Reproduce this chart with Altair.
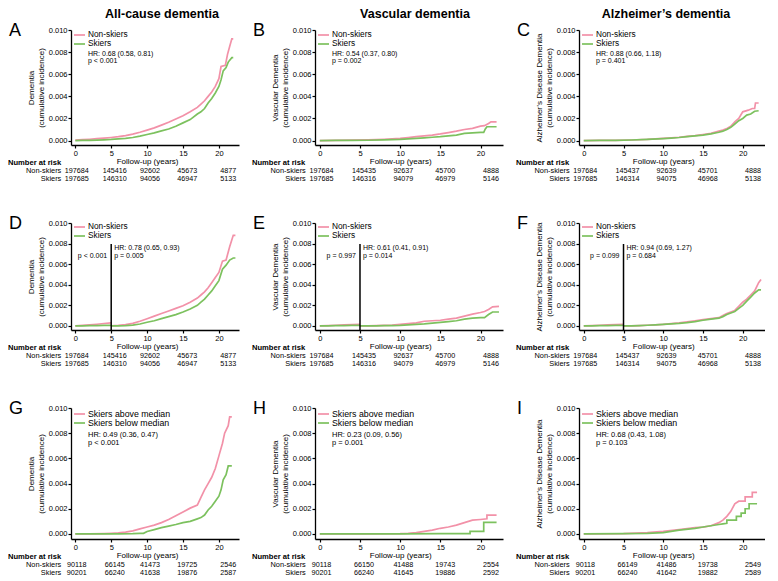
import altair as alt
import pandas as pd

FONT = "Liberation Sans"
PINK = "#f291a8"
GREEN = "#7cc15e"

col_titles = ["All-cause dementia", "Vascular dementia", "Alzheimer\u2019s dementia"]
y_titles = [["Dementia", "(cumulative incidence)"],
            ["Vascular Dementia", "(cumulative incidence)"],
            ["Alzheimer\u2019s Disease Dementia", "(cumulative incidence)"]]
panel_letters = ["A", "B", "C", "D", "E", "F", "G", "H", "I"]
groups_main = ["Non-skiers", "Skiers"]
groups_median = ["Skiers above median", "Skiers below median"]
risk_times = [0, 5, 10, 15, 20]
x_ticks = [0, 5, 10, 15, 20]
y_ticks = [0, 0.002, 0.004, 0.006, 0.008, 0.010]

# Hazard ratio / p-value texts
hr_text = ["HR: 0.68 (0.58, 0.81)", "HR: 0.54 (0.37, 0.80)", "HR: 0.88 (0.66, 1.18)",
           "HR: 0.78 (0.65, 0.93)", "HR: 0.61 (0.41, 0.91)", "HR: 0.94 (0.69, 1.27)",
           "HR: 0.49 (0.36, 0.47)", "HR: 0.23 (0.09, 0.56)", "HR: 0.68 (0.43, 1.08)"]
p_text = ["p < 0.001", "p = 0.002", "p = 0.401",
          "p =  0.005", "p =  0.014", "p =  0.684",
          "p < 0.001", "p = 0.001", "p = 0.103"]
p_before = ["", "", "", "p < 0.001", "p = 0.997", "p = 0.099", "", "", ""]

# Numbers at risk
risk_ns = [[197684, 145416, 92602, 45673, 4877], [197684, 145435, 92637, 45700, 4888],
           [197684, 145437, 92639, 45701, 4888], [197684, 145416, 92602, 45673, 4877],
           [197684, 145435, 92637, 45700, 4888], [197684, 145437, 92639, 45701, 4888],
           [90118, 66145, 41473, 19725, 2546], [90118, 66150, 41488, 19743, 2554],
           [90118, 66149, 41486, 19738, 2549]]
risk_sk = [[197685, 146310, 94056, 46947, 5133], [197685, 146316, 94079, 46979, 5146],
           [197685, 146314, 94075, 46968, 5138], [197685, 146310, 94056, 46947, 5133],
           [197685, 146316, 94079, 46979, 5146], [197685, 146314, 94075, 46968, 5138],
           [90201, 66240, 41638, 19876, 2587], [90201, 66240, 41645, 19886, 2592],
           [90201, 66240, 41642, 19882, 2589]]

# Cumulative incidence curves (values in units of 0.001)
A_ns_t = [0, 1, 2, 3, 4, 5, 6, 7, 8, 9, 10, 11, 12, 13, 14, 15, 16, 17, 17.5, 18, 18.5, 19, 19.5, 20, 20.3, 20.9, 21.2, 21.5, 21.8, 22]
A_ns_v = [0.05, 0.08, 0.12, 0.17, 0.22, 0.28, 0.35, 0.45, 0.58, 0.75, 0.95, 1.15, 1.4, 1.65, 1.95, 2.25, 2.6, 3.0, 3.3, 3.6, 4.0, 4.4, 4.9, 5.6, 6.7, 6.8, 7.8, 8.5, 9.2, 9.2]
A_sk_t = [0, 1, 2, 3, 4, 5, 6, 7, 8, 9, 10, 11, 12, 13, 14, 15, 16, 17, 17.5, 18, 18.5, 19, 19.5, 20, 20.3, 20.6, 21, 21.3, 21.8, 22]
A_sk_v = [0.0, 0.01, 0.02, 0.04, 0.07, 0.1, 0.15, 0.2, 0.28, 0.4, 0.55, 0.7, 0.88, 1.05, 1.3, 1.6, 1.9, 2.4, 2.6, 2.9, 3.4, 3.8, 4.3, 4.9, 5.5, 6.3, 6.6, 7.1, 7.5, 7.5]

B_ns_t = [0, 2, 4, 6, 8, 10, 11, 12, 13, 14, 15, 16, 17, 18, 19, 20, 20.5, 21, 21.3, 22]
B_ns_v = [0, 0.02, 0.04, 0.07, 0.12, 0.2, 0.27, 0.35, 0.42, 0.5, 0.6, 0.72, 0.85, 1.0, 1.1, 1.3, 1.35, 1.55, 1.7, 1.7]
B_sk_t = [0, 2, 4, 6, 8, 10, 11, 12, 13, 14, 15, 16, 17, 18, 19, 20, 20.4, 20.6, 20.8, 22]
B_sk_v = [0, 0.01, 0.02, 0.03, 0.06, 0.1, 0.15, 0.2, 0.25, 0.3, 0.35, 0.42, 0.5, 0.65, 0.7, 0.75, 0.75, 1.05, 1.25, 1.25]

C_ns_t = [0, 2, 4, 6, 8, 10, 11, 12, 13, 14, 15, 16, 17, 17.5, 18, 18.5, 19, 19.5, 20, 20.7, 21.2, 21.5, 21.6, 22]
C_ns_v = [0, 0.01, 0.02, 0.05, 0.1, 0.2, 0.25, 0.3, 0.38, 0.45, 0.55, 0.65, 0.85, 0.95, 1.1, 1.3, 1.7, 2.0, 2.6, 2.75, 2.9, 2.9, 3.4, 3.4]
C_sk_t = [0, 2, 4, 6, 8, 10, 11, 12, 13, 14, 15, 16, 17, 17.5, 18, 18.5, 19, 19.5, 20, 20.5, 21, 21.5, 22]
C_sk_v = [0, 0.01, 0.02, 0.05, 0.1, 0.18, 0.23, 0.28, 0.35, 0.42, 0.5, 0.6, 0.75, 0.85, 1.0, 1.2, 1.5, 1.8, 2.0, 2.3, 2.4, 2.65, 2.7]

pre_t = [0, 1, 2, 3, 4, 5]
D_ns_pre_v = [0, 0.05, 0.1, 0.16, 0.23, 0.3]
D_sk_pre_v = [0, 0.01, 0.02, 0.03, 0.04, 0.05]
D_post_t = [5, 6, 7, 8, 9, 10, 11, 12, 13, 14, 15, 16, 17, 17.5, 18, 18.5, 19, 19.5, 20, 20.5, 21, 21.5, 22, 22.3]
D_ns_post_v = [0, 0.05, 0.12, 0.25, 0.45, 0.7, 0.95, 1.2, 1.45, 1.7, 1.95, 2.3, 2.7, 3.0, 3.3, 3.7, 4.2, 4.7, 5.2, 6.3, 6.4, 7.7, 8.8, 8.8]
D_sk_post_v = [0, 0.01, 0.03, 0.08, 0.18, 0.35, 0.5, 0.7, 0.9, 1.1, 1.35, 1.65, 2.0, 2.3, 2.6, 3.0, 3.4, 3.9, 4.4, 5.5, 5.9, 6.4, 6.6, 6.6]

E_ns_pre_v = [0, 0.03, 0.06, 0.09, 0.12, 0.15]
E_sk_pre_v = [0, 0.01, 0.02, 0.03, 0.04, 0.05]
E_post_t = [5, 6, 7, 8, 9, 10, 11, 12, 13, 14, 15, 16, 17, 18, 19, 20, 20.5, 21, 21.5, 22.3]
E_ns_post_v = [0, 0.01, 0.03, 0.05, 0.08, 0.15, 0.22, 0.3, 0.45, 0.5, 0.55, 0.65, 0.75, 0.95, 1.15, 1.3, 1.4, 1.6, 1.85, 1.9]
E_sk_post_v = [0, 0.0, 0.01, 0.02, 0.03, 0.05, 0.1, 0.15, 0.2, 0.27, 0.35, 0.42, 0.5, 0.65, 0.75, 0.8, 0.8, 1.1, 1.35, 1.35]

F_ns_pre_v = [0, 0.03, 0.06, 0.09, 0.12, 0.15]
F_sk_pre_v = [0, 0.01, 0.02, 0.03, 0.04, 0.05]
F_post_t = [5, 6, 7, 8, 9, 10, 11, 12, 13, 14, 15, 16, 17, 17.5, 18, 18.5, 19, 19.5, 20, 20.5, 21, 21.5, 22, 22.3]
F_ns_post_v = [0, 0.01, 0.03, 0.06, 0.1, 0.15, 0.22, 0.3, 0.4, 0.5, 0.6, 0.7, 0.8, 1.0, 1.2, 1.35, 1.5, 1.9, 2.3, 2.6, 3.0, 3.4, 4.2, 4.5]
F_sk_post_v = [0, 0.01, 0.03, 0.06, 0.1, 0.15, 0.2, 0.25, 0.32, 0.42, 0.55, 0.65, 0.75, 0.9, 1.1, 1.25, 1.4, 1.7, 2.0, 2.4, 2.8, 3.2, 3.5, 3.5]

G_ns_t = [0, 2, 4, 5, 6, 7, 8, 9, 10, 11, 12, 13, 14, 15, 16, 17, 17.5, 18, 18.5, 19, 19.5, 20, 20.5, 20.8, 21.3, 21.5, 21.8]
G_ns_v = [0, 0.01, 0.03, 0.05, 0.08, 0.15, 0.25, 0.4, 0.55, 0.7, 0.9, 1.15, 1.45, 1.75, 2.05, 2.3, 2.9, 3.5, 4.0, 4.5, 5.2, 6.2, 7.2, 8.0, 8.6, 9.3, 9.3]
G_sk_t = [0, 2, 4, 6, 8, 9, 9.5, 10, 11, 12, 13, 14, 15, 16, 17, 17.5, 18, 18.5, 19, 19.5, 20, 20.3, 20.6, 21, 21.3, 21.8]
G_sk_v = [0, 0, 0, 0.01, 0.02, 0.04, 0.05, 0.2, 0.35, 0.5, 0.62, 0.75, 0.9, 1.0, 1.2, 1.3, 1.5, 1.9, 2.2, 2.6, 3.0, 3.5, 4.3, 4.7, 5.4, 5.4]

H_ns_t = [0, 5, 10, 11, 12, 13, 14, 15, 16, 17, 18, 19, 20, 20.8, 20.8, 22]
H_ns_v = [0, 0.01, 0.02, 0.05, 0.1, 0.2, 0.3, 0.45, 0.55, 0.7, 0.9, 1.1, 1.15, 1.2, 1.5, 1.5]
H_sk_t = [0, 5, 10, 15, 18.7, 18.7, 20.4, 20.4, 22]
H_sk_v = [0, 0, 0, 0.02, 0.02, 0.2, 0.2, 0.92, 0.92]

I_ns_t = [0, 5, 8, 10, 12, 14, 15, 16, 17, 17.5, 18, 18.5, 19, 19.5, 20.3, 20.3, 21.2, 21.2, 21.8]
I_ns_v = [0, 0.02, 0.1, 0.2, 0.35, 0.5, 0.55, 0.65, 0.9, 1.1, 1.4, 1.8, 2.4, 2.6, 2.6, 2.95, 2.95, 3.3, 3.3]
I_sk_t = [0, 5, 8, 10, 12, 14, 15, 16, 17, 17.5, 18, 18, 19.2, 19.2, 19.8, 19.8, 20.3, 20.3, 20.8, 20.8, 21.8]
I_sk_v = [0, 0.02, 0.05, 0.1, 0.3, 0.45, 0.55, 0.65, 0.75, 0.8, 0.85, 1.1, 1.1, 1.4, 1.4, 1.65, 1.65, 2.0, 2.0, 2.4, 2.4]

# series per panel: (group index, segment name, times, values)
curves = [
    [(0, "a", A_ns_t, A_ns_v), (1, "b", A_sk_t, A_sk_v)],
    [(0, "a", B_ns_t, B_ns_v), (1, "b", B_sk_t, B_sk_v)],
    [(0, "a", C_ns_t, C_ns_v), (1, "b", C_sk_t, C_sk_v)],
    [(0, "a", pre_t, D_ns_pre_v), (0, "c", D_post_t, D_ns_post_v),
     (1, "b", pre_t, D_sk_pre_v), (1, "d", D_post_t, D_sk_post_v)],
    [(0, "a", pre_t, E_ns_pre_v), (0, "c", E_post_t, E_ns_post_v),
     (1, "b", pre_t, E_sk_pre_v), (1, "d", E_post_t, E_sk_post_v)],
    [(0, "a", pre_t, F_ns_pre_v), (0, "c", F_post_t, F_ns_post_v),
     (1, "b", pre_t, F_sk_pre_v), (1, "d", F_post_t, F_sk_post_v)],
    [(0, "a", G_ns_t, G_ns_v), (1, "b", G_sk_t, G_sk_v)],
    [(0, "a", H_ns_t, H_ns_v), (1, "b", H_sk_t, H_sk_v)],
    [(0, "a", I_ns_t, I_ns_v), (1, "b", I_sk_t, I_sk_v)],
]

# ---------------- layout / style ----------------
X_DOMAIN = [-0.6, 22.8]
Y_DOMAIN = [-0.0004, 0.010]
widths = [168, 188, 186]
heights = [115, 107, 131]
title_dx = [7, 6, -6]
risk_shift = [0.2, 0.5, 0.4, 0.6, 1.3]
legend_y = [[5, 14, 24, 31], [4, 13, 25, 33], [6, 15, 27, 35]]

one = pd.DataFrame({"k": [0]})


def txt(text, x, y, size=8, align="left", weight="normal", dx=0, baseline="middle"):
    return alt.Chart(one).mark_text(
        text=text, font=FONT, fontSize=size, align=align, fontWeight=weight,
        baseline=baseline, dx=dx, color="black"
    ).encode(x=x, y=alt.value(y))


def make_panel(i):
    r, c = divmod(i, 3)
    W, H = widths[c], heights[r]
    xs = alt.Scale(domain=X_DOMAIN, nice=False, zero=False)
    ys = alt.Scale(domain=Y_DOMAIN, nice=False, zero=False)
    labels = groups_main if r < 2 else groups_median

    rows = []
    order = 0
    for g, seg, ts, vs in curves[i]:
        for t, v in zip(ts, vs):
            rows.append({"t": t, "v": v / 1000.0, "grp": labels[g], "seg": seg, "o": order})
            order += 1
    df = pd.DataFrame(rows)

    lines = alt.Chart(df).mark_line(strokeWidth=1.7).encode(
        x=alt.X("t:Q", scale=xs, axis=alt.Axis(
            values=x_ticks, title="Follow-up (years)", titleX=W * (10.6 / 23.4),
            labelFontSize=7.5, titleFontSize=8, tickSize=3, labelPadding=1,
            titlePadding=1, titleFontWeight="normal", domainWidth=1.3, tickWidth=1.2)),
        y=alt.Y("v:Q", scale=ys, axis=alt.Axis(
            values=y_ticks, format=".3f", title=y_titles[c], labelFontSize=7.5,
            titleFontSize=8, tickSize=3, labelPadding=1, titlePadding=3,
            titleFontWeight="normal", titleLineHeight=10, domainWidth=1.3, tickWidth=1.2)),
        color=alt.Color("grp:N", scale=alt.Scale(domain=labels, range=[PINK, GREEN]), legend=None),
        detail="seg:N",
        order="o:Q",
    )

    layers = [lines]
    ly = legend_y[r]
    lsize = 8.3 if r < 2 else 8.8
    # legend
    for k, col in enumerate([PINK, GREEN]):
        layers.append(alt.Chart(one).mark_rule(color=col, strokeWidth=1.7).encode(
            x=alt.value(3), x2=alt.value(14), y=alt.value(ly[k])))
        layers.append(txt(labels[k], alt.value(17), ly[k], size=lsize))

    if r == 1:
        layers.append(alt.Chart(one).mark_rule(color="black", strokeWidth=1.5).encode(
            x=alt.X(datum=5, type="quantitative", scale=xs), y=alt.value(21), y2=alt.value(H)))
        layers.append(txt(hr_text[i], alt.X(datum=5, type="quantitative"), ly[2], size=7, dx=3))
        layers.append(txt(p_text[i], alt.X(datum=5, type="quantitative"), ly[3], size=7, dx=3))
        layers.append(txt(p_before[i], alt.X(datum=5, type="quantitative"), ly[3], size=7, dx=-4, align="right"))
    else:
        hs = 7 if r == 0 else 7.5
        layers.append(txt(hr_text[i], alt.value(17), ly[2], size=hs))
        layers.append(txt(p_text[i], alt.value(17), ly[3], size=hs))

    # panel letter
    layers.append(txt(panel_letters[i], alt.value(-62), 6, size=18, baseline="alphabetic"))
    # column title
    if r == 0:
        layers.append(txt(col_titles[c], alt.value(W / 2 + title_dx[c]), -12, size=12.5,
                          weight="bold", align="center", baseline="alphabetic"))

    # numbers at risk
    layers.append(txt("Number at risk", alt.value(-63), H + 18, size=7.6, weight="bold"))
    for k, (lab, vals) in enumerate([("Non-skiers", risk_ns[i]), ("Skiers", risk_sk[i])]):
        yy = H + 26 + 8 * k
        rdf = pd.DataFrame({"t": [t + s for t, s in zip(risk_times, risk_shift)],
                            "n": [str(v) for v in vals]})
        layers.append(alt.Chart(rdf).mark_text(font=FONT, fontSize=7.2, align="center",
                                               baseline="middle", color="black").encode(
            x=alt.X("t:Q", scale=xs), y=alt.value(yy), text="n:N"))
        layers.append(txt(lab, alt.X(datum=0, type="quantitative"), yy, size=7.4, dx=-14, align="right"))

    return alt.layer(*layers).properties(width=W, height=H)


panels = [make_panel(i) for i in range(9)]

chart = alt.concat(
    *panels, columns=3, spacing={"row": 78, "column": 76}, bounds="flush", align="each"
).properties(padding=0, background="white").configure_view(stroke=None).configure_axis(
    grid=False, domainColor="black", tickColor="black", labelColor="black",
    titleColor="black", labelFont=FONT, titleFont=FONT
)

chart.save("out.html", embed_options={"renderer": "svg", "actions": False})
